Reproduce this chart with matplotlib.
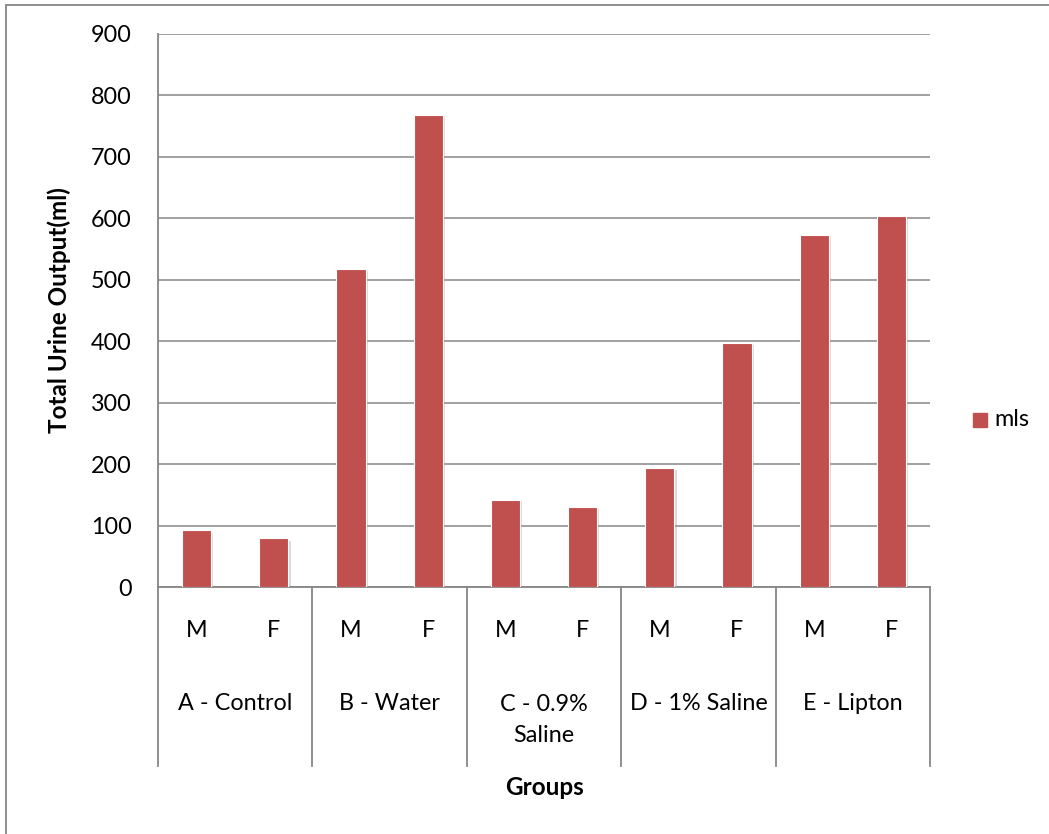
import matplotlib
matplotlib.use("Agg")
import matplotlib.pyplot as plt
import matplotlib.patheffects as pe
from matplotlib.patches import Rectangle
from matplotlib.lines import Line2D
from matplotlib.transforms import blended_transform_factory

plt.rcParams["font.family"] = ["Lato", "DejaVu Sans"]

groups = ["A - Control", "B - Water", "C - 0.9%\nSaline", "D - 1% Saline", "E - Lipton"]
sexes = ["M", "F"]
mls = [92, 79, 518, 768, 142, 131, 194, 397, 573, 604]
yticks = [0, 100, 200, 300, 400, 500, 600, 700, 800, 900]

bar_color = "#C0504D"
grid_color = "#868686"
fs = 16.8
fs_bold = 17.5

fig = plt.figure(figsize=(10.49, 8.34), dpi=100)

# outer chart frame
fig.patches.append(Rectangle((6 / 1049, -0.1), 1.2, 1 - 5 / 834 + 0.1,
                             transform=fig.transFigure, fill=False,
                             edgecolor=grid_color, linewidth=1.3))

ax = fig.add_axes([158 / 1049, 1 - 587 / 834, 772 / 1049, 553 / 834])

x = list(range(len(mls)))
bars = ax.bar(x, mls, width=0.38, color=bar_color, edgecolor="white",
              linewidth=0.8, zorder=3)
for b in bars:
    b.set_path_effects([pe.SimplePatchShadow(offset=(1.5, -1.5),
                                             shadow_rgbFace="#999999", alpha=0.35),
                        pe.Normal()])

ax.set_xlim(-0.5, len(mls) - 0.5)
ax.set_ylim(0, 900)
ax.set_yticks(yticks)
ax.set_yticklabels([str(v) for v in yticks], fontsize=fs)
ax.tick_params(axis="y", length=0, pad=19)
ax.set_xticks([])
ax.yaxis.grid(True, color=grid_color, linewidth=1.1, zorder=0)
ax.set_axisbelow(True)
for s in ["top", "right"]:
    ax.spines[s].set_visible(False)
for s in ["left", "bottom"]:
    ax.spines[s].set_color(grid_color)
    ax.spines[s].set_linewidth(1.3)

# multi-level category axis
trans = blended_transform_factory(ax.transData, ax.transAxes)
for i in range(len(mls)):
    ax.text(i, -0.078, sexes[i % 2], transform=trans, ha="center", va="center",
            fontsize=fs)
for g, name in enumerate(groups):
    y = -0.2404 if "\n" in name else -0.21
    ax.text(2 * g + 0.5, y, name, transform=trans, ha="center", va="center",
            fontsize=fs, linespacing=1.55)
for edge in range(len(groups) + 1):
    ax.add_line(Line2D([2 * edge - 0.5] * 2, [0, -0.324], transform=trans,
                       color=grid_color, linewidth=1.3, clip_on=False))

ax.text(0.5, -0.363, "Groups", transform=ax.transAxes, ha="center",
        va="center", fontsize=fs_bold, fontweight="bold")
ax.set_ylabel("Total Urine Output(ml)", fontsize=fs_bold, fontweight="bold",
              labelpad=14)

# legend
fig.patches.append(Rectangle((973 / 1049, 1 - 427 / 834), 14 / 1049, 14 / 834,
                             transform=fig.transFigure, color=bar_color))
fig.text(994 / 1049, 1 - 420 / 834, "mls", fontsize=fs, va="center", ha="left")

fig.savefig("out.png", dpi=100)
